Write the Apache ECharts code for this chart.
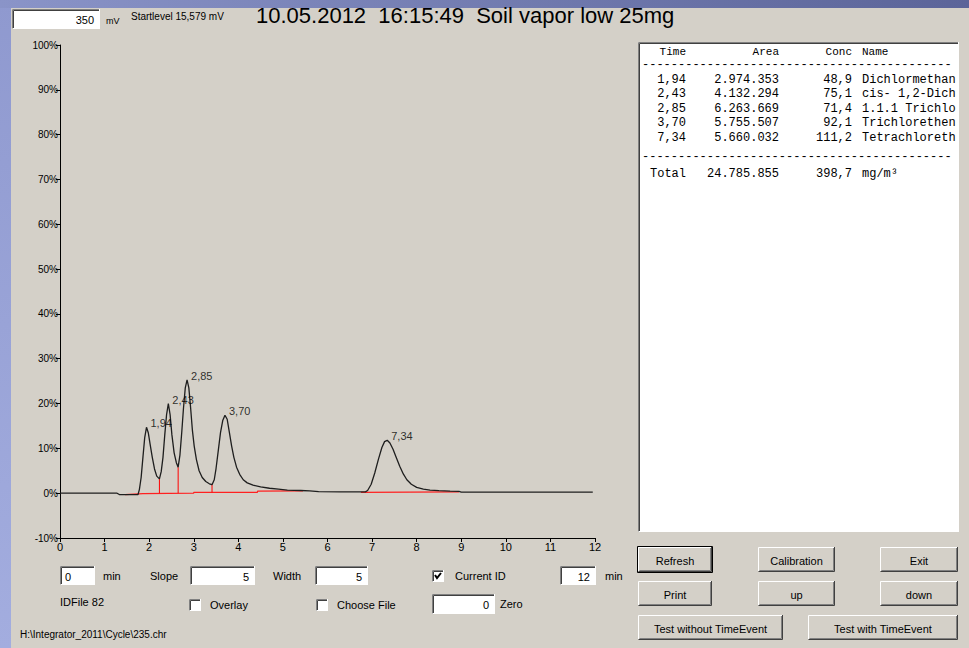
<!DOCTYPE html>
<html>
<head>
<meta charset="utf-8">
<title>Soil vapor low 25mg</title>
<script src="https://cdn.jsdelivr.net/npm/echarts@6/dist/echarts.min.js"></script>
<style>
  html, body { margin: 0; padding: 0; background: #d4d0c8; }
  #chart { width: 969px; height: 648px; }
</style>
</head>
<body>
<div id="chart"></div>
<script>
// chromatogram trace (time in min, signal in %)
const traceTime = [0, 1.28, 1.33, 1.75, 1.78, 1.82, 1.86, 1.90, 1.94, 1.98, 2.02, 2.07, 2.12, 2.17, 2.23,
  2.27, 2.31, 2.35, 2.39, 2.43, 2.47, 2.51, 2.56, 2.61, 2.65, 2.69, 2.73, 2.77, 2.81, 2.85, 2.89, 2.93,
  2.97, 3.01, 3.06, 3.12, 3.19, 3.27, 3.35, 3.41, 3.46, 3.50, 3.55, 3.60, 3.65, 3.70, 3.75, 3.80, 3.85,
  3.90, 3.96, 4.03, 4.11, 4.20, 4.33, 4.50, 4.70, 4.90, 5.10, 5.40, 5.60, 5.80, 6.30, 6.85, 6.90, 6.98,
  7.06, 7.14, 7.22, 7.28, 7.34, 7.40, 7.47, 7.54, 7.62, 7.70, 7.78, 7.88, 8.00, 8.15, 8.30, 8.50, 8.75,
  8.95, 9.00, 11.95];
const traceSignal = [0, 0, -0.3, -0.3, 0.8, 3.5, 8.0, 12.4, 14.7, 13.5, 11.0, 8.0, 5.4, 3.8, 3.2,
  4.8, 8.0, 13.0, 17.5, 20.0, 17.5, 13.0, 9.0, 6.8, 5.8, 8.5, 13.5, 19.0, 23.5, 25.3, 23.5, 19.0,
  14.0, 10.5, 7.5, 5.0, 3.5, 2.6, 2.1, 1.9, 3.0, 5.5, 9.5, 13.5, 16.2, 17.4, 16.5, 13.5, 10.5,
  8.0, 5.8, 4.2, 3.0, 2.3, 1.8, 1.4, 1.1, 0.9, 0.7, 0.6, 0.5, 0.35, 0.3, 0.3, 0.6, 2.0,
  4.5, 7.5, 10.2, 11.5, 11.8, 11.2, 9.8, 8.0, 6.0, 4.3, 3.0, 2.0, 1.3, 0.9, 0.7, 0.55, 0.45,
  0.4, 0.25, 0.25];

// integration baseline (red), null breaks the line
const baseTime = [1.46, 1.86, 1.86, 3.00, 3.00, 4.43, 4.43, 5.45, null, 6.75, 8.95];
const baseSignal = [-0.3, -0.1, 0.0, 0.0, 0.2, 0.2, 0.45, 0.5, null, 0.2, 0.3];

// drop lines at the valleys
const dropTime = [2.23, 2.65, 3.41];
const dropLow = [0, 0, 0.2];
const dropHigh = [3.2, 5.8, 1.9];

// peaks
const peakTime = [1.94, 2.43, 2.85, 3.70, 7.34];
const peakHeight = [14.7, 20.0, 25.3, 17.4, 11.8];
const peakLabel = ['1,94', '2,43', '2,85', '3,70', '7,34'];

// result table
const tableTime = ['1,94', '2,43', '2,85', '3,70', '7,34'];
const tableArea = ['2.974.353', '4.132.294', '6.263.669', '5.755.507', '5.660.032'];
const tableConc = ['48,9', '75,1', '71,4', '92,1', '111,2'];
const tableName = ['Dichlormethan', 'cis- 1,2-Dich', '1.1.1 Trichlo', 'Trichlorethen', 'Tetrachloreth'];
const totalArea = '24.785.855';
const totalConc = '398,7';
const totalUnit = 'mg/m\u00b3';

const BG = '#d4d0c8';
const UI_FONT = '"Liberation Sans", Arial, sans-serif';
const MONO = '"Liberation Mono", "DejaVu Sans Mono", monospace';

function text(x, y, str, size, align, font) {
  return {
    type: 'text', x: x, y: y, z: 10,
    style: {
      text: str, font: (size || 11) + 'px ' + (font || UI_FONT), fill: '#000',
      align: align || 'left', verticalAlign: 'middle'
    }
  };
}

function line(points, color) {
  return { type: 'polyline', z: 9, shape: { points: points }, style: { stroke: color, fill: null, lineWidth: 1 } };
}

// sunken white edit box
function edit(x, y, w, h, str, align) {
  const els = [
    { type: 'rect', z: 8, shape: { x: x, y: y, width: w, height: h }, style: { fill: '#fff' } },
    line([[x + 0.5, y + h], [x + 0.5, y + 0.5], [x + w, y + 0.5]], '#808080'),
    line([[x + 1.5, y + h - 1], [x + 1.5, y + 1.5], [x + w - 1, y + 1.5]], '#404040'),
    line([[x + 0.5, y + h - 0.5], [x + w - 0.5, y + h - 0.5], [x + w - 0.5, y]], '#ffffff')
  ];
  if (str != null) {
    els.push(align === 'left' ? text(x + 5, y + h / 2 + 1, str, 11) : text(x + w - 6, y + h / 2 + 1, str, 11, 'right'));
  }
  return els;
}

function button(x, y, w, h, str, isDefault) {
  const els = [
    { type: 'rect', z: 8, shape: { x: x, y: y, width: w, height: h }, style: { fill: BG } },
    line([[x + 0.5, y + h - 1], [x + 0.5, y + 0.5], [x + w - 1, y + 0.5]], '#ffffff'),
    line([[x + 0.5, y + h - 0.5], [x + w - 0.5, y + h - 0.5], [x + w - 0.5, y]], '#404040'),
    line([[x + 1.5, y + h - 1.5], [x + w - 1.5, y + h - 1.5], [x + w - 1.5, y + 1]], '#808080'),
    text(x + w / 2, y + h / 2 + 1, str, 11, 'center')
  ];
  if (isDefault) {
    els.push({ type: 'rect', z: 9, shape: { x: x - 0.5, y: y - 0.5, width: w + 1, height: h + 1 },
      style: { fill: null, stroke: '#000', lineWidth: 1 } });
  }
  return els;
}

function checkbox(x, y, checked) {
  const els = edit(x, y, 12, 12, null);
  if (checked) {
    els.push({ type: 'polyline', z: 10, shape: { points: [[x + 3, y + 5], [x + 5, y + 8], [x + 9, y + 3]] },
      style: { stroke: '#000', fill: null, lineWidth: 2 } });
  }
  return els;
}

// result table text
function tableGraphics() {
  const els = [];
  const dash = '-'.repeat(43);
  els.push(text(686, 52, 'Time', 11, 'right', MONO));
  els.push(text(779, 52, 'Area', 11, 'right', MONO));
  els.push(text(852, 52, 'Conc', 11, 'right', MONO));
  els.push(text(862, 52, 'Name', 11, 'left', MONO));
  els.push(text(642, 65, dash, 12, 'left', MONO));
  tableTime.forEach(function (t, i) {
    const y = 80 + i * 14.4;
    els.push(text(686, y, t, 12, 'right', MONO));
    els.push(text(779, y, tableArea[i], 12, 'right', MONO));
    els.push(text(852, y, tableConc[i], 12, 'right', MONO));
    els.push(text(862, y, tableName[i], 12, 'left', MONO));
  });
  els.push(text(642, 157, dash, 12, 'left', MONO));
  els.push(text(650, 174, 'Total', 12, 'left', MONO));
  els.push(text(779, 174, totalArea, 12, 'right', MONO));
  els.push(text(852, 174, totalConc, 12, 'right', MONO));
  els.push(text(862, 174, totalUnit, 12, 'left', MONO));
  return els;
}

const graphics = [].concat(
  // desktop strip and title bar edge
  [{ type: 'rect', z: 1, shape: { x: 0, y: 0, width: 11, height: 648 },
     style: { fill: new echarts.graphic.LinearGradient(0, 0, 0, 1, [
       { offset: 0, color: '#8f99cf' }, { offset: 1, color: '#a3addf' }]) } },
   { type: 'rect', z: 1, shape: { x: 0, y: 0, width: 969, height: 8 },
     style: { fill: new echarts.graphic.LinearGradient(0, 0, 1, 0, [
       { offset: 0, color: '#8a94c8' }, { offset: 1, color: '#5b6499' }]) } }],
  edit(12, 9, 88, 20, '350'),
  [text(106, 21, 'mV', 9), text(131, 16, 'Startlevel 15,579 mV', 10),
   text(256, 15, '10.05.2012  16:15:49  Soil vapor low 25mg', 22)],
  // table panel
  edit(638, 42, 321, 490, null),
  tableGraphics(),
  // controls under the plot
  edit(60, 566, 35, 19, '0', 'left'),
  [text(103, 576, 'min', 11), text(150, 576, 'Slope', 11)],
  edit(190, 566, 65, 19, '5'),
  [text(273, 576, 'Width', 11)],
  edit(315, 566, 53, 19, '5'),
  checkbox(432, 570, true),
  [text(455, 576, 'Current ID', 11)],
  edit(560, 566, 36, 19, '12'),
  [text(605, 576, 'min', 11), text(60, 602, 'IDFile 82', 11)],
  checkbox(189, 599, false),
  [text(210, 605, 'Overlay', 11)],
  checkbox(316, 599, false),
  [text(337, 605, 'Choose File', 11)],
  edit(432, 594, 63, 20, '0'),
  [text(500, 604, 'Zero', 11), text(20, 634, 'H:\\Integrator_2011\\Cycle\\235.chr', 10)],
  // buttons
  button(638, 547, 74, 25, 'Refresh', true),
  button(758, 547, 77, 25, 'Calibration'),
  button(880, 547, 78, 25, 'Exit'),
  button(638, 581, 74, 25, 'Print'),
  button(758, 581, 77, 25, 'up'),
  button(880, 581, 78, 25, 'down'),
  button(638, 615, 145, 25, 'Test without TimeEvent'),
  button(808, 615, 150, 25, 'Test with TimeEvent')
);

const chart = echarts.init(document.getElementById('chart'), null, { renderer: 'svg' });

const dropSeries = dropTime.map(function (t, i) {
  return {
    type: 'line', symbol: 'none', silent: true, z: 3,
    lineStyle: { color: '#ff0000', width: 1 },
    data: [[t, dropLow[i]], [t, dropHigh[i]]]
  };
});

chart.setOption({
  animation: false,
  backgroundColor: BG,
  textStyle: { fontFamily: UI_FONT },
  grid: { left: 60, top: 45, width: 535, height: 493 },
  xAxis: {
    type: 'value', min: 0, max: 12, interval: 1,
    axisLine: { onZero: false, lineStyle: { color: '#000', width: 1 } },
    axisTick: { length: 4, lineStyle: { color: '#000' } },
    axisLabel: { color: '#000', fontSize: 11, margin: 3 },
    splitLine: { show: false }
  },
  yAxis: {
    type: 'value', min: -10, max: 100, interval: 10,
    axisLine: { show: true, onZero: false, lineStyle: { color: '#000', width: 1 } },
    axisTick: { show: true, length: 4, lineStyle: { color: '#000' } },
    axisLabel: { color: '#000', fontSize: 10, margin: 2, formatter: '{value}%' },
    splitLine: { show: false }
  },
  series: [
    {
      type: 'line', symbol: 'none', silent: true, z: 2, connectNulls: false,
      lineStyle: { color: '#ff2020', width: 1.2 },
      data: baseTime.map(function (t, i) { return t === null ? [null, null] : [t, baseSignal[i]]; })
    }
  ].concat(dropSeries, [
    {
      type: 'line', symbol: 'none', silent: true, z: 4,
      lineStyle: { color: '#1e1e1e', width: 1.3 },
      data: traceTime.map(function (t, i) { return [t, traceSignal[i]]; })
    },
    {
      type: 'scatter', symbolSize: 0, silent: true, z: 5,
      label: {
        show: true, position: 'right', distance: 4, offset: [0, -4],
        color: '#000', fontSize: 11,
        formatter: function (p) { return peakLabel[p.dataIndex]; }
      },
      data: peakTime.map(function (t, i) { return [t, peakHeight[i]]; })
    }
  ]),
  graphic: graphics
});

window.addEventListener('resize', function () { chart.resize(); });
</script>
</body>
</html>
